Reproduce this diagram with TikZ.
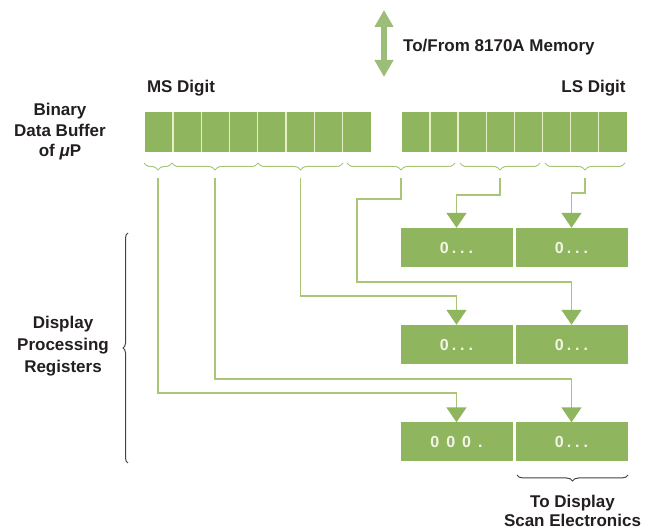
\documentclass[tikz,border=0pt]{standalone}
\usepackage{fontspec}
\setmainfont{Liberation Sans}
\usetikzlibrary{arrows.meta,decorations.pathreplacing,calc}
\definecolor{boxgreen}{RGB}{143,181,94}
\definecolor{linegreen}{RGB}{168,198,118}
\definecolor{topgreen}{RGB}{155,189,120}
\definecolor{sepcol}{RGB}{230,238,200}
\definecolor{txt}{RGB}{35,31,32}
\definecolor{regtxt}{RGB}{242,246,228}
\begin{document}
\begin{tikzpicture}[x=1pt,y=-1pt,
 lbl/.style={font=\fontsize{17}{20.5}\selectfont\bfseries, text=txt, align=center, inner sep=0pt},
 reg/.style={fill=boxgreen, minimum width=112pt, minimum height=39pt, inner sep=0pt, font=\fontsize{16}{18}\selectfont\bfseries, text=regtxt},
 buf/.style={fill=boxgreen, minimum height=40pt, inner sep=0pt},
 sepline/.style={draw=sepcol, line width=1.2pt},
 conn/.style={draw=linegreen, line width=1.5pt, -{Triangle[width=20pt,length=15pt,color=boxgreen]}},
 bbrace/.style={draw=linegreen, line width=1pt, decorate, decoration={brace, mirror, amplitude=7pt}},
 dbrace/.style={draw=txt!85, line width=1pt, decorate},
]
\useasboundingbox (0,0) rectangle (657,529);

% top double arrow
\coordinate (mt) at (384,10);
\coordinate (mb) at (384,77);
\draw[topgreen, line width=6pt, {Triangle[width=18pt,length=17pt]}-{Triangle[width=18pt,length=17pt]}] (mt) -- (mb);
\node[lbl, anchor=west] (mem) at (403,47) {To/From 8170A Memory};
\node[lbl] (ms) at (181,88) {MS Digit};
\node[lbl] (ls) at (593.5,88) {LS Digit};

% binary data buffer
\node[buf, minimum width=226pt] (bufL) at (258,132) {};
\node[buf, minimum width=225pt] (bufR) at (514.5,132) {};
\foreach \i in {1,...,7} {
  \draw[sepline] ($(bufL.north west)+(\i*28.25,0)$) -- ($(bufL.south west)+(\i*28.25,0)$);
  \draw[sepline] ($(bufR.north west)+(\i*28.125,0)$) -- ($(bufR.south west)+(\i*28.125,0)$);
}
\node[lbl] (bdb) at (60,132) {Binary\\Data Buffer\\of {\itshape μ}P};

% braces under buffer
\draw[bbrace] (144,163) -- (172,163);
\draw[bbrace] (172,163) -- (258,163);
\draw[bbrace] (258,163) -- (343,163);
\draw[bbrace] (347,163) -- (455,163);
\draw[bbrace] (460,163) -- (540,163);
\draw[bbrace] (545,163) -- (625,163);
\coordinate (b1) at (158,178);
\coordinate (b2) at (215,178);
\coordinate (b3) at (300.5,178);
\coordinate (b4) at (401,178);
\coordinate (b5) at (500,178);
\coordinate (b6) at (585,178);

% display processing registers
\node[reg] (r1l) at (456.5,247.5) {0\hspace{3pt}.\hspace{4pt}.\hspace{4pt}.};
\node[reg] (r1r) at (571.5,247.5) {0\hspace{3pt}.\hspace{4pt}.\hspace{4pt}.};
\node[reg] (r2l) at (456.5,344.5) {0\hspace{3pt}.\hspace{4pt}.\hspace{4pt}.};
\node[reg] (r2r) at (571.5,344.5) {0\hspace{3pt}.\hspace{4pt}.\hspace{4pt}.};
\node[reg] (r3l) at (456.5,442) {0\hspace{7pt}0\hspace{7pt}0\hspace{7pt}.};
\node[reg] (r3r) at (571.5,442) {0\hspace{3pt}.\hspace{4pt}.\hspace{4pt}.};

% connectors
\draw[conn] (b1) |- ++(298.5,215) -- (r3l.north);
\draw[conn] (b2) |- ++(356.5,201) -- (r3r.north);
\draw[conn] (b3) |- ++(156,118) -- (r2l.north);
\draw[conn] (b4) |- ++(-44,21) |- ++(214.5,83) -- (r2r.north);
\draw[conn] (b5) |- ++(-43.5,17) -- (r1l.north);
\draw[conn] (b6) |- ++(-13.5,15) -- (r1r.north);

% left brace and label
\draw[dbrace, decoration={brace, amplitude=5pt}] (128,463) -- (128,233);
\node[lbl, font=\fontsize{17}{22}\selectfont\bfseries] (dpr) at (63,346) {Display\\Processing\\Registers};

% bottom brace and label
\draw[dbrace, decoration={brace, mirror, amplitude=6pt}] (517,475) -- (628,475);
\node[lbl, font=\fontsize{17}{19}\selectfont\bfseries] (dse) at (572.5,511) {To Display\\Scan Electronics};
\end{tikzpicture}
\end{document}
